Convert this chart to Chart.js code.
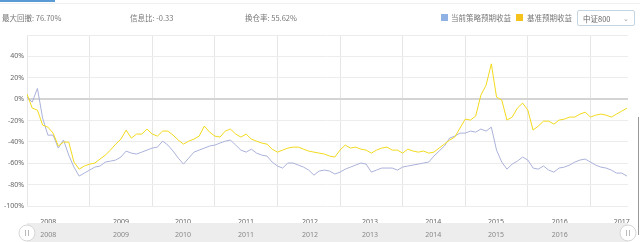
<!DOCTYPE html>
<html>
<head>
<meta charset="utf-8">
<script src="https://cdn.jsdelivr.net/npm/chart.js@4.4.1/dist/chart.umd.min.js"></script>
<style>
  body { margin: 0; background: #fff; font-family: "Noto Sans CJK SC", "Noto Sans", sans-serif; }
  #wrap { position: relative; width: 640px; height: 242px; overflow: hidden; }
  #chart { position: absolute; left: 0; top: 0; }
  .tab { position: absolute; left: 0; top: 0; width: 55px; height: 2px; background: #5b9bd5; }
  .rule { position: absolute; left: 0; top: 3px; width: 640px; height: 1px; background: #f0f0f0; }
  .t { position: absolute; top: 12px; font-size: 7.5px; line-height: 11px; color: #777; white-space: nowrap; }
  .sq { position: absolute; top: 14px; width: 7px; height: 7px; }
  .sel { position: absolute; left: 577px; top: 10px; width: 58px; height: 16px; border: 1px solid #c5d6e2; border-radius: 2px; box-sizing: border-box; }
  .sel span { position: absolute; left: 5px; top: 2px; font-size: 7.5px; line-height: 11px; color: #666; }
  .sel i { position: absolute; right: 5px; top: 2px; font-style: normal; font-size: 7px; line-height: 11px; color: #999; }
  .scroll { position: absolute; left: 638px; top: 117px; width: 1px; height: 118px; background: #999; }
</style>
</head>
<body>
<div id="wrap">
  <canvas id="chart" width="640" height="242"></canvas>
  <div class="tab"></div>
  <div class="rule"></div>
  <div class="t" style="left:2px">最大回撤: 76.70%</div>
  <div class="t" style="left:130px">信息比: -0.33</div>
  <div class="t" style="left:245px">换仓率: 55.62%</div>
  <div class="sq" style="left:441px;background:#8fb1e3"></div>
  <div class="t" style="left:451px">当前策略预期收益</div>
  <div class="sq" style="left:516px;background:#f6c21c"></div>
  <div class="t" style="left:527px">基准预期收益</div>
  <div class="sel"><span>中证800</span><i>&#8964;</i></div>
  <div class="scroll"></div>
</div>
<script>
// monthly points, first one is 2008-01
var startYear = 2008;
var seriesNames = ['当前策略预期收益', '基准预期收益'];

var strategy = [
  1.9, -2.8, 10, -17.8, -33.7, -33.7, -45.8, -38.3, -52.4, -63.6, -72, -69.2,
  -66.4, -63.6, -62.6, -58.9, -58, -57, -54.2, -48.6, -50.5, -51.4, -49.6, -47.7,
  -45.8, -44.9, -39.3, -43, -48.6, -55.2, -60.8, -55.2, -49.6, -47.7, -45.8, -43.9,
  -43, -41.1, -39.3, -38.3, -43, -47.7, -49.6, -46.8, -50.5, -52.4, -53.3, -58.9,
  -62.6, -64.5, -59.8, -59.8, -61.7, -63.6, -66.4, -71.1, -67.3, -66.4, -67.3, -70.1,
  -68.3, -65.5, -63.6, -61.7, -59.8, -60.8, -68.3, -66.4, -64.5, -64.5, -64.5, -66.4,
  -63.6, -62.6, -61.7, -60.8, -59.8, -58.9, -53.3, -48.6, -43.9, -36.5, -34.6, -31.8,
  -31.8, -29.9, -30.9, -28, -29.9, -26.2, -47.7, -58.9, -65.5, -60.8, -58, -54.2,
  -57, -64.5, -65.5, -62.6, -66.4, -68.3, -64.5, -63.6, -61.7, -58.9, -57, -56.1,
  -58.9, -61.7, -63.6, -64.5, -66.4, -69.2, -69.2, -72
];

var benchmark = [
  4.7, -8.4, -10.3, -24.3, -26.2, -31.8, -43.9, -40.2, -40.2, -58.9, -65.5, -62.6,
  -60.8, -59.8, -56.1, -52.4, -47.7, -42.1, -37.4, -29, -36.5, -32.7, -32.7, -28,
  -32.7, -34.6, -29.9, -29.9, -33.7, -38.3, -42.1, -39.3, -37.4, -34.6, -25.2, -30.9,
  -34.6, -35.5, -29.9, -28, -32.7, -35.5, -32.7, -37.4, -39.3, -41.1, -42.1, -46.8,
  -49.6, -47.7, -45.8, -44.9, -44.9, -46.8, -48.6, -49.6, -50.5, -51.4, -53.3, -54.2,
  -47.7, -43, -45.8, -44.9, -46.8, -47.7, -50.5, -47.7, -45.8, -44.9, -47.7, -47.7,
  -50.5, -46.8, -48.6, -49.6, -48.6, -50.5, -49.6, -45.8, -42.1, -38.3, -35.5, -27.1,
  -18.7, -19.6, -15.9, 3.7, 13.1, 33, 1.9, -0.9, -19.6, -16.8, -8.4, -3.7,
  -10.3, -29, -25.2, -20.6, -20.6, -23.4, -19.6, -18.7, -16.8, -16.8, -14, -12.2,
  -16.8, -15, -14, -15, -16.8, -14, -11.2, -8.4
];

var yearLabels = ['2008', '2009', '2010', '2011', '2012', '2013', '2014', '2015', '2016', '2017'];
var labelPos = [2008.34, 2009.5, 2010.49, 2011.5, 2012.52, 2013.48, 2014.49, 2015.49, 2016.51, 2017.5];
var yearLines = [2008, 2009, 2010, 2011, 2012, 2013, 2014, 2015, 2016, 2017];
var yTicks = [60, 40, 20, 0, -20, -40, -60, -80, -100];

function toPoints(vals) {
  var pts = [];
  for (var i = 0; i < vals.length; i++) {
    pts.push({ x: startYear + i / 12, y: vals[i] });
  }
  return pts;
}

function labelFor(v) {
  for (var i = 0; i < labelPos.length; i++) {
    if (Math.abs(labelPos[i] - v) < 0.001) return yearLabels[i];
  }
  return '';
}

// the zoom bar under the axis
var slider = {
  id: 'slider',
  afterDraw: function (chart) {
    var ctx = chart.ctx;
    var a = chart.chartArea;
    var x = chart.scales.x;
    ctx.save();
    ctx.fillStyle = '#ededed';
    ctx.fillRect(a.left, 223, a.right - a.left, 19);
    ctx.fillStyle = '#888';
    ctx.font = '7px "Noto Sans", sans-serif';
    ctx.textAlign = 'center';
    ctx.textBaseline = 'middle';
    for (var i = 0; i < yearLabels.length - 1; i++) {
      ctx.fillText(yearLabels[i], x.getPixelForValue(labelPos[i]), 235);
    }
    [a.left, a.right].forEach(function (hx) {
      ctx.beginPath();
      ctx.arc(hx, 233, 8, 0, Math.PI * 2);
      ctx.fillStyle = '#fff';
      ctx.fill();
      ctx.strokeStyle = '#d6d6d6';
      ctx.stroke();
      ctx.strokeStyle = '#bbb';
      ctx.beginPath();
      ctx.moveTo(hx - 1.5, 230); ctx.lineTo(hx - 1.5, 236);
      ctx.moveTo(hx + 1.5, 230); ctx.lineTo(hx + 1.5, 236);
      ctx.stroke();
    });
    ctx.restore();
  }
};

new Chart(document.getElementById('chart'), {
  type: 'line',
  data: {
    datasets: [{
      label: seriesNames[1],
      data: toPoints(benchmark),
      borderColor: '#f2da1e',
      borderWidth: 1
    }, {
      label: seriesNames[0],
      data: toPoints(strategy),
      borderColor: '#abb2da',
      borderWidth: 1
    }]
  },
  options: {
    responsive: false,
    animation: false,
    devicePixelRatio: 1,
    layout: { padding: { top: 35, right: 12, left: 0, bottom: 0 } },
    elements: { point: { radius: 0 }, line: { tension: 0 } },
    plugins: { legend: { display: false }, tooltip: { enabled: false } },
    scales: {
      x: {
        type: 'linear',
        position: 'bottom',
        min: 2008,
        max: 2017.6,
        afterFit: function (s) { s.height = 36; },
        afterBuildTicks: function (s) { s.ticks = labelPos.map(function (v) { return { value: v }; }); },
        ticks: {
          autoSkip: false, maxRotation: 0, padding: 4, color: '#666',
          font: { size: 7, family: '"Noto Sans", sans-serif' },
          callback: function (v) { return labelFor(v); }
        },
        grid: { display: false },
        border: { display: false }
      },
      years: {
        type: 'linear',
        position: 'top',
        min: 2008,
        max: 2017.6,
        afterFit: function (s) { s.height = 0; },
        afterBuildTicks: function (s) { s.ticks = yearLines.map(function (v) { return { value: v }; }); },
        ticks: { display: false },
        grid: { color: '#e6e6e6', drawTicks: false },
        border: { display: false }
      },
      y: {
        min: -100,
        max: 60,
        afterFit: function (s) { s.width = 27; },
        afterBuildTicks: function (s) { s.ticks = yTicks.map(function (v) { return { value: v }; }); },
        ticks: {
          padding: 3, color: '#666',
          font: { size: 7, family: '"Noto Sans", sans-serif' },
          callback: function (v) { return v === 60 ? '' : v + '%'; }
        },
        grid: {
          drawTicks: false,
          color: function (c) { return c.tick.value === 0 ? '#d4d4d4' : '#ececec'; },
          lineWidth: function (c) { return c.tick.value === 0 ? 2 : 1; }
        },
        border: { display: false }
      }
    }
  },
  plugins: [slider]
});
</script>
</body>
</html>
